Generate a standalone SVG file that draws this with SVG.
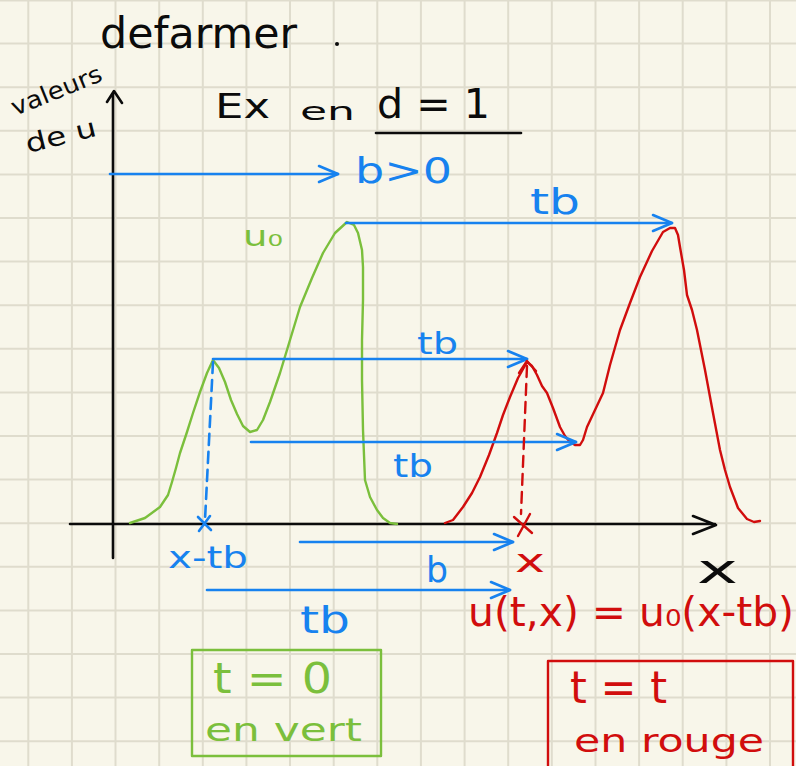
<svg xmlns="http://www.w3.org/2000/svg" width="796" height="766" viewBox="0 0 796 766">
<defs>
<style>
.grid{stroke:#dfdccd;stroke-width:2;fill:none}
.ax{stroke:#0b0b0b;stroke-width:2.6;fill:none;stroke-linecap:round;stroke-linejoin:round}
.bl{stroke:#1782ef;stroke-width:2.6;fill:none;stroke-linecap:round;stroke-linejoin:round}
.gr{stroke:#7bbf3c;stroke-width:2.4;fill:none;stroke-linecap:round;stroke-linejoin:round}
.rd{stroke:#d10d0d;stroke-width:2.4;fill:none;stroke-linecap:round;stroke-linejoin:round}
.arr{marker-end:url(#ha)}
text{font-family:"DejaVu Sans","Liberation Sans",sans-serif}
.tk{fill:#0b0b0b}
.tb{fill:#1782ef}
.tg{fill:#7bbf3c}
.tr{fill:#d10d0d}
</style>
<marker id="ha" viewBox="-21 -11 23 22" refX="0" refY="0" markerWidth="23" markerHeight="22" markerUnits="userSpaceOnUse" orient="auto" overflow="visible">
<path d="M-19,-8 L0,0 L-19,8" fill="none" stroke="#1782ef" stroke-width="2.6" stroke-linecap="round" stroke-linejoin="round"/>
</marker>
</defs>
<rect width="796" height="766" fill="#f8f6ea"/>
<g id="grid">
<path class="grid" d="M0,0.5H796 M0,43.6H796 M0,87.2H796 M0,130.8H796 M0,174.4H796 M0,218H796 M0,261.6H796 M0,305.2H796 M0,348.8H796 M0,392.4H796 M0,436H796 M0,479.6H796 M0,523.2H796 M0,566.8H796 M0,610.4H796 M0,654H796 M0,697.6H796 M0,741.2H796 M28.3,0V766 M71.9,0V766 M115.5,0V766 M159.2,0V766 M202.8,0V766 M246.4,0V766 M290,0V766 M333.7,0V766 M377.3,0V766 M420.9,0V766 M464.6,0V766 M508.2,0V766 M551.8,0V766 M595.5,0V766 M639.1,0V766 M682.7,0V766 M726.4,0V766 M770,0V766"/>
</g>
<g id="title">
<text class="tk" x="100" y="48" font-size="42" textLength="197" lengthAdjust="spacingAndGlyphs">defarmer</text>
<circle cx="337" cy="44" r="2" fill="#0b0b0b"/>
</g>
<g id="axis-label">
<text class="tk" x="15" y="116" font-size="24" textLength="96" lengthAdjust="spacingAndGlyphs" transform="rotate(-22 15 116)">valeurs</text>
<text class="tk" x="28" y="153" font-size="26" textLength="72" lengthAdjust="spacingAndGlyphs" transform="rotate(-14 28 153)">de u</text>
</g>
<g id="heading">
<text class="tk" x="215" y="118" font-size="34" textLength="55" lengthAdjust="spacingAndGlyphs">Ex</text>
<text class="tk" x="300" y="120" font-size="24" textLength="55" lengthAdjust="spacingAndGlyphs">en</text>
<text class="tk" x="377" y="118" font-size="40" textLength="113" lengthAdjust="spacingAndGlyphs">d = 1</text>
<path class="ax" d="M376,133H521"/>
</g>
<g id="axes">
<path class="ax" d="M113,558V94 M107,102L114,91L122,103"/>
<path class="ax" d="M70,524H715 M693,516L716,525L693,534"/>
<text class="tk" x="697" y="583" font-size="40" textLength="41" lengthAdjust="spacingAndGlyphs">x</text>
</g>
<g id="u0-curve">
<polyline class="gr" points="130,523 145,518 160,507 168,495 172,482 176,468 180,453 187,432 193,413 200,392 207,373 213,360 219,368 225,382 231,400 237,414 243,426 250,432 257,430 263,420 270,402 280,373 290,340 300,307 312,278 323,253 335,233 347,222 354,225 358,233 362,250 363,267 363,300 362,340 362,380 363,430 365,480 370,497 377,510 383,518 390,523 397,524"/>
<text class="tg" x="243" y="246" font-size="28" textLength="40" lengthAdjust="spacingAndGlyphs">u₀</text>
</g>
<g id="u-curve">
<polyline class="rd" points="445,523 453,520 463,507 472,493 480,477 489,455 497,433 503,415 510,397 518,378 527,362 532,366 537,375 542,386 547,393 553,408 560,427 565,436 570,442 575,445 580,445 583,440 587,427 595,410 603,393 610,365 620,330 630,303 640,277 652,251 663,232 670,228 675,228 678,235 680,247 684,270 687,295 692,310 697,330 705,370 713,413 720,450 725,470 730,487 738,508 747,519 754,522 760,521"/>
</g>
<g id="connectors">
<path class="bl arr" d="M110,174H338"/>
<path class="bl arr" d="M346,223H672"/>
<path class="bl arr" d="M213,359H527"/>
<path class="bl arr" d="M251,442H576"/>
<path class="bl arr" d="M300,542H513"/>
<path class="bl arr" d="M207,590H510"/>
<path class="bl" d="M213,362L205,520" stroke-dasharray="11 7"/>
<path class="bl" d="M198,517L211,530 M210,516L199,531"/>
<path class="rd" d="M527,366L521,514" stroke-dasharray="11 7"/>
<path class="rd" d="M519,373L527,361L536,371"/>
<path class="rd" d="M514,517L532,533 M530,514L518,536"/>
</g>
<g id="labels">
<text class="tb" x="355" y="183" font-size="36" textLength="97" lengthAdjust="spacingAndGlyphs">b&gt;0</text>
<text class="tb" x="530" y="214" font-size="36" textLength="50" lengthAdjust="spacingAndGlyphs">tb</text>
<text class="tb" x="417" y="354" font-size="30" textLength="41" lengthAdjust="spacingAndGlyphs">tb</text>
<text class="tb" x="393" y="477" font-size="32" textLength="40" lengthAdjust="spacingAndGlyphs">tb</text>
<text class="tb" x="168" y="568" font-size="30" textLength="80" lengthAdjust="spacingAndGlyphs">x-tb</text>
<text class="tb" x="426" y="582" font-size="36" textLength="22" lengthAdjust="spacingAndGlyphs">b</text>
<text class="tb" x="300" y="633" font-size="38" textLength="50" lengthAdjust="spacingAndGlyphs">tb</text>
<text class="tr" x="515" y="572" font-size="32" textLength="30" lengthAdjust="spacingAndGlyphs">x</text>
<text class="tr" x="468" y="626" font-size="40" textLength="326" lengthAdjust="spacingAndGlyphs">u(t,x) = u₀(x-tb)</text>
</g>
<g id="box-green">
<rect x="192" y="650" width="189" height="106" class="gr"/>
<text class="tg" x="213" y="693" font-size="42" textLength="119" lengthAdjust="spacingAndGlyphs">t = 0</text>
<text class="tg" x="205" y="741" font-size="32" textLength="157" lengthAdjust="spacingAndGlyphs">en vert</text>
</g>
<g id="box-red">
<rect x="548" y="661" width="245" height="120" class="rd"/>
<text class="tr" x="570" y="703" font-size="44" textLength="97" lengthAdjust="spacingAndGlyphs">t = t</text>
<text class="tr" x="574" y="752" font-size="32" textLength="190" lengthAdjust="spacingAndGlyphs">en rouge</text>
</g>
</svg>
